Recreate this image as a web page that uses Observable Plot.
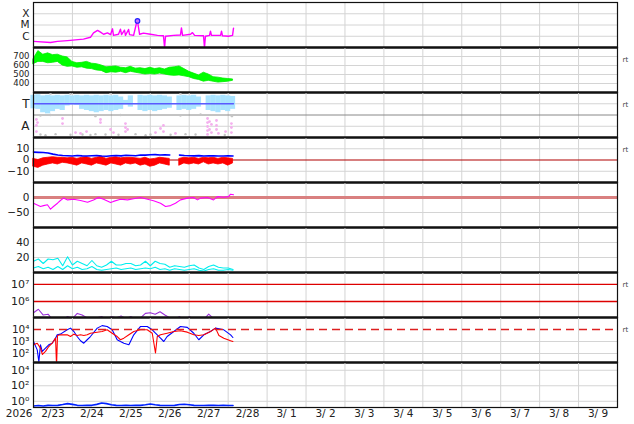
<!DOCTYPE html>
<html><head><meta charset="utf-8">
<script src="https://cdn.jsdelivr.net/npm/d3@7"></script>
<script src="https://cdn.jsdelivr.net/npm/@observablehq/plot@0.6"></script>
<style>
body{margin:0;background:#fff;}
#chart{position:relative;width:634px;height:424px;overflow:hidden;background:#fff;}
#chart svg{position:absolute;left:0;overflow:visible;}
</style></head><body><div id="chart"></div>
<script>
// ---- axis labels ----
const yearLabel = "2026";
const dayLabels = ["2/23","2/24","2/25","2/26","2/27","2/28","3/ 1","3/ 2","3/ 3","3/ 4","3/ 5","3/ 6","3/ 7","3/ 8","3/ 9"];

// ---- X-ray flux (hours since 2/23 00:00) ----
const xrayHours = [0,10.5,14.8,21,30.8,35.1,37,39.5,41.3,43.2,45.6,47.5,48.7,49.3,52.4,53.6,54.3,56.1,56.7,58.6,59.2,61.7,63.5,64.1,65.4,67.8,72.1,76.4,80.1,80.8,81.4,86.3,90.6,91.2,91.9,96.8,98,99.3,104.8,105.4,106,108.5,109.1,109.7,115.3,115.9,116.5,120.2,122.7,123.3];
const xrayFlux = [3.5e-7,2.8e-7,3.5e-7,4.1e-7,5.6e-7,8.1e-7,2.0e-6,3.3e-6,2.3e-6,1.5e-6,2.0e-6,1.4e-6,4.6e-6,1.2e-6,1.5e-6,4.3e-6,1.4e-6,3.5e-6,1.2e-6,4.0e-6,1.4e-6,1.2e-6,1.5e-5,2.3e-5,1.5e-6,1.9e-6,1.5e-6,1.2e-6,1.1e-6,1.0e-7,1.0e-6,1.2e-6,1.3e-6,5.6e-6,1.2e-6,1.5e-6,2.1e-6,1.2e-6,1.1e-6,1.0e-7,1.0e-6,1.2e-6,2.8e-6,1.2e-6,1.2e-6,2.8e-6,1.1e-6,1.0e-6,1.2e-6,5.3e-6];
const flareHours = [64.1];
const flareFlux = [2.3e-5];
const xrayTickValues = [1e-4,1e-5,1e-6];
const xrayTickLabels = ["X","M","C"];

// ---- 3-hourly series ----
const hours3 = [0,3,6,9,12,15,18,21,24,27,30,33,36,39,42,45,48,51,54,57,60,63,66,69,72,75,78,81,84,87,90,93,96,99,102,105,108,111,114,117,120,123];
const speedMax = [670,760,720,735,715,720,700,690,640,625,630,640,620,615,600,580,585,590,575,570,585,565,570,560,575,560,570,555,575,580,590,560,530,510,490,520,500,470,465,455,450,445];
const speedMin = [615,640,640,625,630,640,600,585,590,575,580,565,560,545,540,515,525,520,530,515,530,520,510,500,505,500,510,500,490,485,490,480,470,450,440,420,430,420,410,415,420,430];
const speedTicks = [700,600,500,400];

const sectorTop = [3.75,3.8,3.7,3.75,3.7,3.75,3.7,3.75,3.7,3.75,3.7,3.75,3.7,3.75,3.7,3.75,3.7,3.75,3.6,3.3,3.7,null,3.75,3.7,3.75,3.7,3.75,3.7,3.6,null,3.7,3.75,3.7,3.75,3.6,null,3.7,3.75,3.7,3.75,3.7,3.65];
const sectorBottom = [2.55,2.5,2.2,2.1,2.3,2.5,2.4,2.8,2.9,2.85,2.5,2.4,2.3,2.2,2.3,2.4,2.3,2.4,2.5,2.9,2.7,null,2.4,2.3,2.4,2.3,2.4,2.5,2.6,null,2.4,2.5,2.4,2.5,2.7,null,2.4,2.3,2.2,2.4,2.3,2.5];
const sectorLineHours = [0,123.3];
const sectorLineValues = [3,3];
const pinkHours = [1.8,1.8,1.8,2.5,17.9,17.9,25.9,29,32.7,41.3,41.3,47.5,49.3,56.7,56.7,56.7,58,75.2,78.3,80.1,80.1,87.5,107.3,107.3,107.3,107.3,107.3,108.5,108.5,109.7,109.7,112.8,112.8,112.8,114,118.4,122,122,122];
const pinkValues = [1.6,1.07,0.53,1.33,1.69,1.24,0.44,0.36,0.53,1.6,1.33,0.71,0.44,1.24,0.89,0.53,0.71,0.44,0.8,1.07,0.53,0.36,1.69,1.33,0.98,0.62,0.27,1.42,0.71,1.16,0.44,1.51,1.07,0.71,0.36,0.53,1.24,0.89,0.44];
const grayHours = [4.3,7.4,13.6,22.8,30.2,35.1,38.2,44.4,52.4,62.9,69.1,72.1,84.5,93.7,99.9,117.9,4.3,10.5,38.2,53.6,90.6,103,122.3,10.5,22.8,47.5,90.6];
const grayValues = [0.27,0.2,0.3,0.25,0.27,0.22,0.3,0.27,0.25,0.3,0.2,0.27,0.25,0.3,0.27,0.22,1.95,2.0,1.9,2.0,1.95,2.05,1.9,3.9,3.88,3.92,3.9];
const sectorTickValues = [3,1];
const sectorTickLabels = ["T","A"];

const btValues = [7,6.8,6.6,6.2,5.2,4.4,4.0,3.8,3.6,4.0,3.7,3.5,3.8,4.0,3.6,3.4,3.8,4.0,3.7,4.2,4.0,3.8,4.5,4.3,4.6,4.8,4.5,4.7,4.4,null,4.3,4.0,3.8,3.7,3.9,3.6,3.7,3.8,3.6,3.5,3.7,3.6];
const bzMin = [-6,-7,-5,-4,-3,-4,-2.5,-3,-4,-5,-3,-4,-5,-3,-4,-5,-3,-4,-5,-3,-4,-3,-5,-4,-6,-5,-3,-4,-5,null,-5,-3,-4,-3,-4,-2,-4,-3,-4,-3,-5,-3];
const bzMax = [1,0,1.5,2,2.5,2,2,1.5,2,1,2,2.5,1,2,3,1,2,2.5,1.5,2,2,1.5,1,2,0.5,1,2,1.5,1,null,1,2,1.5,2,1,2,1.5,2,1,2,1.5,1];
const imfTickValues = [10,0,-10];
const imfTickLabels = ["10","0","\u221210"];

const dstHours = [0,4.3,6.2,8.6,10.5,12.3,14.8,16.6,18.5,21,24.7,29,33.3,37,40,43.2,47.5,49.3,53.6,58,61.7,66,70.3,74,78.3,81.4,84.5,87.5,90.6,94.9,98.6,101.1,103,107.3,111,113.4,117.1,120.2,121.5,123.3];
const dstValues = [-19,-30,-27,-24,-39,-30,-19,-10,-2,-8,-6,-10,-16,-8,0,-6,-17,-13,-6,-8,-4,0,-6,-11,-19,-30,-27,-19,-8,-2,0,-8,-2,0,-8,3,1,3,11,9];
const dstTickValues = [0,-50];
const dstTickLabels = ["0","\u221250"];

const cyanUpper = [15,18,12,18,17,19,9,21,10,15,12,9,16,9,7,10,15,10,10,12,12,9,10,15,9,15,12,11,7,9,8,7,9,10,6,4,8,10,7,6,6,4];
const cyanLower = [6,8,5,7,4,8,4,9,5,7,4,5,8,4,3,4,5,6,4,5,6,4,5,6,5,7,4,5,3,5,4,3,4,5,3,2,4,5,3,3,4,3];
const cyanTicks = [40,20];

const electronFlux = [2.2e5,3.5e5,1.6e5,1.8e5,8e4,1.1e5,9e4,1.3e5,1.0e5,2.0e5,1.6e5,1.1e5,8e4,1.1e5,1.3e5,9e4,1.3e5,1.1e5,1.4e5,1.0e5,1.3e5,9e4,1.1e5,2.0e5,2.2e5,1.8e5,2.5e5,1.6e5,1.1e5,9e4,1.3e5,8e4,1.3e5,9e4,8e4,9e4,1.8e5,1.0e5,8e4,9e4,8e4,1.1e5];
const electronTickValues = [1e7,1e6];
const electronTickLabels = ["10\u2077","10\u2076"];

const p8BlueHours = [0,2.3,3.3,4.3,5.4,7.4,9.4,11.5,13.6,14.6,16.6,20.8,22.8,24.9,26.9,29,31,33.1,35.1,39.3,42.3,45.4,48.5,51.6,53.6,55.7,58.8,61.8,66,70.1,73.2,75.2,78.3,80.3,82.4,86.5,90.6,94.8,98.8,101.9,105,109.1,112.2,117.3,121.5,122.9];
const p8BlueValues = [1000,200,21,530,150,280,530,720,1900,3600,4100,9400,13000,6800,2600,1150,720,1400,2600,13000,21000,18000,9400,1400,1000,720,530,3600,18000,18000,9400,4900,1900,1000,2600,6800,18000,15000,4900,1400,3600,6800,13000,9400,3600,2150];
const p8RedHours = [0,2.3,4.3,5.5,7.4,9.4,11.5,13.6,14.2,14.8,16.6,20.8,22.8,24.9,26.9,29,31,33.1,35.1,42.3,45.4,48.5,51.6,53.6,55.7,58.8,61.8,66,70.1,73.2,75.2,76.3,78.3,82.4,86.5,90.6,94.8,98.8,101.9,105,109.1,112.2,114.3,117.3,121.5,122.9];
const p8RedValues = [530,720,280,83,150,380,720,1900,10,3200,3600,3600,2600,4100,3200,3600,3200,3600,4900,6800,9400,4900,2600,1400,1900,3600,6800,9400,9400,4900,110,2600,3600,4900,6800,7800,6000,3600,3200,3600,6800,13000,3200,1900,1150,1000];
const p8Threshold = [1e4];
const p8TickValues = [1e4,1e3,1e2];
const p8TickLabels = ["10\u2074","10\u00b3","10\u00b2"];

const p9Values = [0.25,0.28,0.25,0.3,0.28,0.3,0.38,0.5,0.4,0.3,0.28,0.3,0.3,0.4,0.6,0.5,0.35,0.3,0.28,0.3,0.28,0.3,0.3,0.35,0.45,0.35,0.3,0.28,0.28,0.3,0.38,0.42,0.35,0.3,0.28,0.28,0.3,0.3,0.28,0.3,0.28,0.28];
const p9TickValues = [1e4,1e2,1e0];
const p9TickLabels = ["10\u2074","10\u00b2","10\u2070"];

// ---- layout ----
const chart = document.getElementById("chart");
const W = 634, ML = 33, MR = 17, PH = 45, TOP0 = 2, PAD = 8;
const dayGrid = dayLabels.map((d, i) => i * 24).concat([dayLabels.length * 24]);
const labelHours = dayLabels.map((d, i) => i * 24 + 12);
const idx3 = hours3.map((d, i) => i);
const FONT = '"DejaVu Sans", sans-serif';
const GRID = "#d4d4d4";

function yLabels(values, labels, fs = 10.5) {
  return Plot.text(values, {y: d => d, text: (d, i) => labels[i], frameAnchor: "left", textAnchor: "end", dx: -4, fontSize: fs, fill: "#222"});
}
function rt() {
  return Plot.text(["rt"], {text: d => d, frameAnchor: "top-right", dx: 5, dy: 9.5, textAnchor: "start", fontSize: 7, fill: "#444"});
}
function panel(k, y, marks, opts = {}) {
  const padB = opts.padB ?? PAD;
  const sep = opts.last ? [] : [Plot.ruleY([y.domain[0]], {stroke: "#222", strokeWidth: 2.6})];
  const svg = Plot.plot({
    width: W, height: PH + PAD + padB,
    marginLeft: ML, marginRight: MR, marginTop: PAD, marginBottom: padB,
    x: {domain: [0, 360], axis: null},
    y: {...y, axis: null},
    style: {background: "transparent", fontFamily: FONT, fontSize: "10.5px", overflow: "visible"},
    marks: [
      Plot.ruleX(dayGrid, {stroke: GRID, strokeWidth: 1}),
      ...marks,
      Plot.frame({stroke: "#111", strokeWidth: 1.2}),
      ...sep
    ]
  });
  svg.style.top = (TOP0 + k * PH - PAD) + "px";
  chart.append(svg);
}

// 1: X-ray
panel(0, {type: "log", domain: [1e-7, 1e-3]}, [
  Plot.ruleY(xrayTickValues, {stroke: GRID}),
  Plot.line(xrayHours, {x: d => d, y: (d, i) => xrayFlux[i], stroke: "#ff00ff", strokeWidth: 1.4, clip: true}),
  Plot.dot(flareHours, {x: d => d, y: (d, i) => flareFlux[i], r: 2.3, stroke: "#2020ff", strokeWidth: 1.2, fill: "#c070ff"}),
  yLabels(xrayTickValues, xrayTickLabels, 10.5)
]);

// 2: solar wind speed
panel(1, {domain: [300, 800]}, [
  Plot.ruleY(speedTicks, {stroke: GRID}),
  Plot.areaY(idx3, {x: i => hours3[i], y1: i => speedMin[i], y2: i => speedMax[i], fill: "#00ff00", stroke: "#00ee00", strokeWidth: 0.8}),
  yLabels(speedTicks, speedTicks.map(String), 8.5),
  rt()
]);

// 3: sector
panel(2, {domain: [0, 4]}, [
  Plot.ruleY(sectorTickValues, {stroke: GRID}),
  Plot.ruleY([2], {stroke: "#888", strokeWidth: 1}),
  Plot.rect(idx3.filter(i => sectorTop[i] != null), {x1: i => hours3[i] - 1.6, x2: i => hours3[i] + 1.6, y1: i => sectorBottom[i], y2: i => sectorTop[i], fill: "#a9e3ff"}),
  Plot.dot(grayHours, {x: d => d, y: (d, i) => grayValues[i], r: 1.2, fill: "#c4c4c4", stroke: null}),
  Plot.dot(pinkHours, {x: d => d, y: (d, i) => pinkValues[i], r: 1.4, fill: "#f4b0ee", stroke: null}),
  Plot.line(sectorLineHours, {x: d => d, y: (d, i) => sectorLineValues[i], stroke: "#5a5aff", strokeWidth: 1.3}),
  yLabels(sectorTickValues, sectorTickLabels, 12),
  rt()
]);

// 4: IMF
panel(3, {domain: [-20, 20]}, [
  Plot.ruleY([10, -10], {stroke: GRID}),
  Plot.ruleY([0], {stroke: "#b00000", strokeWidth: 1.2}),
  Plot.areaY(idx3, {x: i => hours3[i], y1: i => bzMin[i] ?? NaN, y2: i => bzMax[i] ?? NaN, fill: "#ff0000", stroke: "#ff0000", strokeWidth: 0.8}),
  Plot.line(idx3, {x: i => hours3[i], y: i => btValues[i] ?? NaN, stroke: "#0000ff", strokeWidth: 1.6}),
  yLabels(imfTickValues, imfTickLabels),
  rt()
]);

// 5: Dst
panel(4, {domain: [-100, 50]}, [
  Plot.ruleY([-50], {stroke: GRID}),
  Plot.ruleY([0], {stroke: "#d98080", strokeWidth: 3}),
  Plot.line(dstHours, {x: d => d, y: (d, i) => dstValues[i], stroke: "#ff00ff", strokeWidth: 1.1}),
  yLabels(dstTickValues, dstTickLabels)
]);

// 6: cyan
panel(5, {domain: [0, 60]}, [
  Plot.ruleY(cyanTicks, {stroke: GRID}),
  Plot.line(idx3, {x: i => hours3[i], y: i => cyanUpper[i], stroke: "#00eeee", strokeWidth: 1.1}),
  Plot.line(idx3, {x: i => hours3[i], y: i => cyanLower[i], stroke: "#00eeee", strokeWidth: 1.1}),
  yLabels(cyanTicks, cyanTicks.map(String))
]);

// 7: electrons
panel(6, {type: "log", domain: [1.15e5, 5e7]}, [
  Plot.ruleY(electronTickValues, {stroke: "#dd0000", strokeWidth: 1.3}),
  Plot.line(idx3, {x: i => hours3[i], y: i => electronFlux[i], stroke: "#9b30d9", strokeWidth: 1.1, clip: true}),
  yLabels(electronTickValues, electronTickLabels, 11),
  rt()
]);

// 8: particles
panel(7, {type: "log", domain: [17.8, 1e5]}, [
  Plot.ruleY([1e3, 1e2], {stroke: GRID}),
  Plot.line(p8BlueHours, {x: d => d, y: (d, i) => p8BlueValues[i], stroke: "#0000ff", strokeWidth: 1.1, clip: true}),
  Plot.line(p8RedHours, {x: d => d, y: (d, i) => p8RedValues[i], stroke: "#ff0000", strokeWidth: 1.1, clip: true}),
  Plot.ruleY(p8Threshold, {stroke: "#dd2020", strokeWidth: 1.4, strokeDasharray: "8,5"}),
  yLabels(p8TickValues, p8TickLabels, 10.5),
  rt()
]);

// 9: bottom
panel(8, {type: "log", domain: [0.158, 1e5]}, [
  Plot.ruleY(p9TickValues, {stroke: GRID}),
  Plot.line(idx3, {x: i => hours3[i], y: i => p9Values[i], stroke: "#0022ff", strokeWidth: 1.6, clip: true}),
  yLabels(p9TickValues, p9TickLabels, 11),
  Plot.text(dayLabels, {x: (d, i) => labelHours[i], text: d => d, frameAnchor: "bottom", dy: 9.5, fontSize: 10.5, fill: "#222"}),
  Plot.text([yearLabel], {x: 0, text: d => d, frameAnchor: "bottom", dy: 9.5, dx: -1, textAnchor: "end", fontSize: 10.5, fill: "#222"})
], {padB: 20, last: true});
</script>
</body></html>
